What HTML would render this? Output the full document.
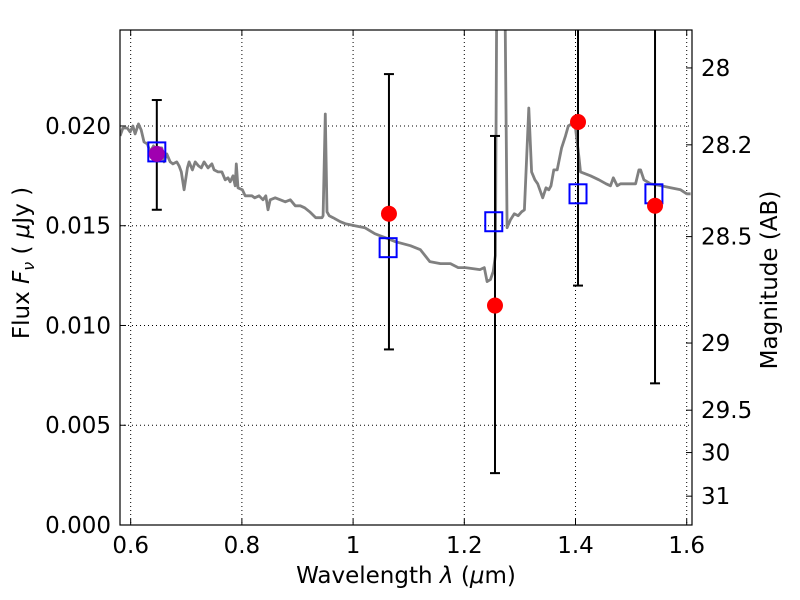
<!DOCTYPE html>
<html><head><meta charset="utf-8"><style>body{margin:0;background:#fff}svg{display:block;font-family:"DejaVu Sans","Liberation Sans",sans-serif}</style></head>
<body>
<svg id="chart" width="800" height="600" viewBox="0 0 800 600"></svg>
<script>
const specWave=[0.581,0.586,0.594,0.599,0.604,0.608,0.614,0.619,0.624,0.630,0.635,0.641,0.644,0.649,0.656,0.660,0.665,0.671,0.676,0.683,0.687,0.691,0.696,0.702,0.705,0.711,0.716,0.722,0.727,0.732,0.739,0.746,0.750,0.757,0.764,0.770,0.775,0.779,0.784,0.788,0.790,0.793,0.801,0.806,0.812,0.818,0.823,0.831,0.838,0.843,0.847,0.851,0.860,0.869,0.878,0.887,0.896,0.905,0.913,0.922,0.933,0.944,0.946,0.950,0.953,0.957,0.964,0.977,0.986,1.003,1.021,1.039,1.058,1.076,1.103,1.121,1.138,1.157,1.175,1.189,1.202,1.228,1.236,1.241,1.247,1.252,1.256,1.259,1.272,1.277,1.283,1.290,1.297,1.303,1.308,1.316,1.321,1.327,1.332,1.341,1.347,1.352,1.356,1.361,1.367,1.375,1.382,1.387,1.393,1.400,1.406,1.409,1.427,1.442,1.455,1.463,1.468,1.475,1.481,1.486,1.490,1.499,1.508,1.514,1.517,1.523,1.535,1.554,1.571,1.589,1.600,1.607];
const specFlux=[0.0195,0.0199,0.0199,0.0197,0.0200,0.0196,0.0201,0.0198,0.0192,0.0191,0.0187,0.0190,0.0183,0.0189,0.0189,0.0182,0.0186,0.0182,0.0181,0.0182,0.0180,0.0177,0.0168,0.0179,0.0182,0.0178,0.0182,0.0180,0.0179,0.0182,0.0179,0.0181,0.0178,0.0177,0.0177,0.0173,0.0174,0.0172,0.0175,0.0170,0.0181,0.0169,0.0168,0.0165,0.0165,0.0165,0.0164,0.0165,0.0163,0.0165,0.0158,0.0163,0.0164,0.0163,0.0162,0.0163,0.0160,0.0160,0.0159,0.0157,0.0154,0.0154,0.0155,0.0206,0.0157,0.0155,0.0154,0.0152,0.0151,0.0150,0.0149,0.0146,0.0144,0.0142,0.0140,0.0138,0.0132,0.0131,0.0131,0.0129,0.0129,0.0128,0.0129,0.0122,0.0123,0.0127,0.0135,0.0300,0.0300,0.0149,0.0153,0.0156,0.0155,0.0157,0.0158,0.0209,0.0177,0.0173,0.0171,0.0164,0.0169,0.0168,0.0170,0.0178,0.0178,0.0189,0.0195,0.0200,0.0201,0.0199,0.0185,0.0177,0.0175,0.0173,0.0171,0.0170,0.0174,0.0170,0.0171,0.0171,0.0171,0.0171,0.0171,0.0178,0.0178,0.0173,0.0171,0.0170,0.0169,0.0168,0.0166,0.0166];
const photWave=[0.647,1.0645,1.2552,1.4045,1.543];
const photFlux=[0.0186,0.0156,0.0110,0.0202,0.0160];
const errLow=[0.0158,0.0088,0.0026,0.0120,0.0071];
const errHigh=[0.0213,0.0226,0.0195,0.0300,0.0300];
const modelWave=[0.647,1.063,1.253,1.4045,1.541];
const modelFlux=[0.0187,0.0139,0.0152,0.0166,0.0166];
const xTicks=[0.6,0.8,1.0,1.2,1.4,1.6];
const xTickLabels=["0.6","0.8","1","1.2","1.4","1.6"];
const yTicks=[0,0.005,0.010,0.015,0.020];
const yTickLabels=["0.000","0.005","0.010","0.015","0.020"];
const magTicks=[28,28.2,28.5,29,29.5,30,31];

const L=120,R=692,T=30,B=525,X0=0.5808,X1=1.6095,Y0=0,Y1=0.02481;
const sx=v=>L+(v-X0)/(X1-X0)*(R-L);
const sy=v=>B-(v-Y0)/(Y1-Y0)*(B-T);
const magToFlux=m=>Math.pow(10,(23.9-m)/2.5);
const NS="http://www.w3.org/2000/svg";
const svg=document.getElementById('chart');
function mk(tag,attrs,parent){const e=document.createElementNS(NS,tag);for(const k in attrs)e.setAttribute(k,attrs[k]);(parent||svg).appendChild(e);return e;}
const defs=mk('defs',{});const cp=mk('clipPath',{id:'clip'},defs);mk('rect',{x:L,y:T,width:R-L,height:B-T},cp);

xTicks.forEach((t,i)=>{const g=mk('line',{x1:sx(t),x2:sx(t),y1:T,y2:B,stroke:'#000','stroke-width':1,'stroke-dasharray':'1,3'});

});
yTicks.forEach(t=>{const g=mk('line',{x1:L,x2:R,y1:sy(t),y2:sy(t),stroke:'#000','stroke-width':1,'stroke-dasharray':'1,3'});

});

const pts=specWave.map((w,i)=>sx(w).toFixed(1)+','+sy(specFlux[i]).toFixed(1)).join(' ');
const sp=mk('polyline',{points:pts,fill:'none',stroke:'#808080','stroke-width':2.8,'clip-path':'url(#clip)','stroke-linejoin':'round'});



photWave.forEach((w,i)=>{const x=sx(w);
const e=mk('line',{x1:x,x2:x,y1:sy(errLow[i]),y2:sy(errHigh[i]),stroke:'#000','stroke-width':2,'clip-path':'url(#clip)'});


[errLow[i],errHigh[i]].forEach(v=>{if(v<Y1){const c=mk('line',{x1:x-5,x2:x+5,y1:sy(v),y2:sy(v),stroke:'#000','stroke-width':2});

}});});

modelWave.forEach((w,i)=>{const s=mk('rect',{x:sx(w)-8.5,y:sy(modelFlux[i])-9.5,width:17,height:19,fill:'none',stroke:'#0000ff','stroke-width':2});

});

photWave.forEach((w,i)=>{const c=mk('circle',{cx:sx(w),cy:sy(photFlux[i]),r:8,fill:i===0?'#a000b0':'#ff0000'});

});

const fr=mk('rect',{x:L,y:T,width:R-L,height:B-T,fill:'none',stroke:'#000','stroke-width':1.2});



xTicks.forEach((t,i)=>{const x=sx(t);
mk('line',{x1:x,x2:x,y1:B,y2:B-6,stroke:'#000'});mk('line',{x1:x,x2:x,y1:T,y2:T+6,stroke:'#000'});
const l=mk('text',{x:x,y:B+28,'font-size':23,'text-anchor':'middle'});l.textContent=xTickLabels[i];

});
yTicks.forEach((t,i)=>{const y=sy(t);
mk('line',{x1:L,x2:L+6,y1:y,y2:y,stroke:'#000'});
const l=mk('text',{x:L-9,y:y+8,'font-size':23,'text-anchor':'end'});l.textContent=yTickLabels[i];

});
magTicks.forEach(m=>{const y=sy(magToFlux(m));
mk('line',{x1:R,x2:R-6,y1:y,y2:y,stroke:'#000'});
const l=mk('text',{x:R+9,y:y+8,'font-size':23});l.textContent=String(m);

});

const xt=mk('text',{x:406,y:583,'font-size':23,'text-anchor':'middle','xml:space':'preserve'});xt.innerHTML='Wavelength  <tspan font-style="italic">λ</tspan> (<tspan font-style="italic">μ</tspan>m)';


const yt=mk('text',{x:0,y:0,'font-size':23,'text-anchor':'middle','xml:space':'preserve',transform:'translate(29,263) rotate(-90)'});yt.innerHTML='Flux  <tspan font-style="italic">F</tspan><tspan font-style="italic" font-size="16" dy="5">ν</tspan><tspan dy="-5">  (  </tspan><tspan font-style="italic">μ</tspan>Jy )';


const rt=mk('text',{x:0,y:0,'font-size':23,'text-anchor':'middle',transform:'translate(777,280) rotate(-90)'});rt.textContent='Magnitude (AB)';


</script>
</body></html>
